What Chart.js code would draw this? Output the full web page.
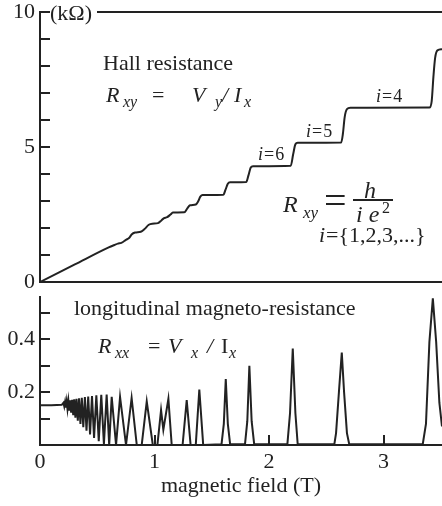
<!DOCTYPE html>
<html>
<head>
<meta charset="utf-8">
<script src="https://cdn.jsdelivr.net/npm/chart.js@4.4.1/dist/chart.umd.min.js"></script>
<style>
  body { margin: 0; background: #fff; }
  #wrap { position: relative; width: 442px; height: 506px; font-family: "Liberation Serif", serif; color: #222; }
  canvas { position: absolute; left: 0; }
  .t { position: absolute; white-space: nowrap; line-height: 1; }
</style>
</head>
<body>
<div id="wrap">
  <canvas id="hall" width="442" height="290" style="top:0"></canvas>
  <canvas id="rxx" width="442" height="216" style="top:290px"></canvas>
</div>
<script>
// Hall resistance (kOhm) vs magnetic field (T)
const hallField = [0, 0.30, 0.60, 0.65, 0.68, 0.71, 0.75, 0.78, 0.80, 0.83, 0.88, 0.91, 0.95, 0.98, 1.03, 1.06, 1.08, 1.11, 1.14, 1.16,
  1.26, 1.285, 1.31, 1.36, 1.38, 1.40, 1.42, 1.60, 1.62, 1.64, 1.66, 1.80, 1.82, 1.84, 1.86,
  2.19, 2.21, 2.23, 2.25, 2.63, 2.645, 2.66, 2.68, 2.71, 3.40, 3.42, 3.435, 3.45, 3.47, 3.51];
const hallValue = [0, 0.64, 1.28, 1.37, 1.42, 1.45, 1.56, 1.64, 1.76, 1.83, 1.86, 1.95, 2.12, 2.16, 2.18, 2.28, 2.36, 2.40, 2.50, 2.57,
  2.58, 2.72, 2.84, 2.87, 2.98, 3.16, 3.22, 3.23, 3.42, 3.64, 3.69, 3.70, 3.95, 4.24, 4.29,
  4.31, 4.72, 5.10, 5.16, 5.17, 5.50, 6.10, 6.40, 6.45, 6.46, 6.70, 7.60, 8.30, 8.58, 8.62];

// longitudinal magneto-resistance vs magnetic field (T)
const rxxField = [0, 0.10, 0.19,
  0.205, 0.212, 0.219, 0.226, 0.233, 0.240, 0.248, 0.256, 0.264, 0.272, 0.281, 0.290, 0.299, 0.309, 0.319, 0.330,
  0.341, 0.353, 0.365, 0.378, 0.392, 0.406, 0.421, 0.437, 0.454, 0.472, 0.492, 0.513, 0.535, 0.558, 0.582, 0.604,
  0.626, 0.664, 0.699, 0.751, 0.800, 0.845, 0.888, 0.932, 0.985, 1.025, 1.057, 1.077, 1.121, 1.150,
  1.245, 1.281, 1.315, 1.360, 1.391, 1.425,
  1.585, 1.605, 1.622, 1.640, 1.660,
  1.790, 1.810, 1.828, 1.848, 1.870,
  2.160, 2.183, 2.207, 2.230, 2.250,
  2.570, 2.585, 2.610, 2.635, 2.655, 2.680, 2.700,
  3.342, 3.370, 3.400, 3.430, 3.459, 3.487, 3.510];
const rxxValue = [0.150, 0.150, 0.152,
  0.160, 0.146, 0.163, 0.141, 0.165, 0.136, 0.167, 0.130, 0.169, 0.122, 0.171, 0.113, 0.173, 0.103, 0.175, 0.092,
  0.177, 0.080, 0.179, 0.067, 0.181, 0.054, 0.183, 0.040, 0.185, 0.027, 0.188, 0.014, 0.190, 0.004, 0.191, 0.000,
  0.182, 0.000, 0.182, 0.000, 0.178, 0.000, 0.000, 0.165, 0.000, 0.000, 0.132, 0.058, 0.175, 0.000,
  0.000, 0.170, 0.000, 0.000, 0.210, 0.000,
  0.003, 0.080, 0.250, 0.080, 0.003,
  0.003, 0.090, 0.300, 0.090, 0.003,
  0.003, 0.120, 0.365, 0.120, 0.003,
  0.003, 0.045, 0.200, 0.350, 0.200, 0.045, 0.003,
  0.003, 0.080, 0.390, 0.555, 0.390, 0.160, 0.070];

const ink = '#222';
Chart.defaults.font.family = '"Liberation Serif", serif';
Chart.defaults.font.size = 22;
Chart.defaults.color = ink;

function toPoints(xs, ys) {
  return xs.map((x, i) => ({ x: x, y: ys[i] }));
}

// fixed axis box sizes, no extra label padding around the plot area
function fixSize(w, h) {
  return (s) => {
    if (w !== null) s.width = w;
    if (h !== null) s.height = h;
    s.paddingTop = 0; s.paddingBottom = 0; s.paddingLeft = 0; s.paddingRight = 0;
  };
}

const hallChart = new Chart(document.getElementById('hall'), {
  type: 'line',
  data: {
    datasets: [{
      data: toPoints(hallField, hallValue),
      borderColor: ink,
      borderWidth: 2,
      pointRadius: 0,
      cubicInterpolationMode: 'monotone',
    }],
  },
  options: {
    responsive: false,
    animation: false,
    layout: { padding: { top: 12, left: 0, right: 0, bottom: 0 } },
    plugins: { legend: { display: false }, tooltip: { enabled: false } },
    scales: {
      x: {
        type: 'linear', min: 0, max: 3.51,
        ticks: { display: false },
        grid: { display: false },
        border: { color: ink, width: 2 },
        afterFit: fixSize(null, 8),
      },
      xTop: {
        type: 'linear', position: 'top', min: 0, max: 3.51,
        ticks: { display: false },
        grid: { display: false },
        border: { color: ink, width: 2 },
        afterFit: fixSize(null, 0),
      },
      y: {
        min: 0, max: 10,
        ticks: { stepSize: 1, padding: 15, autoSkip: false, callback: (v) => (v % 5 === 0 ? v : '') },
        grid: { drawOnChartArea: false, tickLength: -10, color: ink, lineWidth: 2 },
        border: { color: ink, width: 2 },
        afterFit: fixSize(40, null),
      },
    },
  },
});

const rxxChart = new Chart(document.getElementById('rxx'), {
  type: 'line',
  data: {
    datasets: [{
      data: toPoints(rxxField, rxxValue),
      borderColor: ink,
      borderWidth: 2,
      pointRadius: 0,
      tension: 0,
    }],
  },
  options: {
    responsive: false,
    animation: false,
    layout: { padding: { top: 7, left: 0, right: 0, bottom: 0 } },
    plugins: { legend: { display: false }, tooltip: { enabled: false } },
    scales: {
      x: {
        type: 'linear', min: 0, max: 3.51,
        ticks: { stepSize: 1, padding: 14, includeBounds: false, autoSkip: false },
        grid: { drawOnChartArea: false, tickLength: -10, color: ink, lineWidth: 2 },
        border: { color: ink, width: 2 },
        title: { display: true, text: 'magnetic field (T)', font: { size: 22, lineHeight: 1.2 }, padding: { top: 0, bottom: 7 } },
        afterFit: fixSize(null, 61),
      },
      y: {
        min: 0, max: 0.56,
        ticks: {
          stepSize: 0.1, padding: 15, includeBounds: false, autoSkip: false,
          callback: (v) => (Math.abs(v - 0.2) < 1e-6 || Math.abs(v - 0.4) < 1e-6 ? v.toFixed(1) : ''),
        },
        grid: { drawOnChartArea: false, tickLength: -10, color: ink, lineWidth: 2 },
        border: { color: ink, width: 2 },
        afterFit: fixSize(40, null),
      },
    },
  },
});

// text labels: [text, left, baseline, font size, italic, extra css]
const labels = [
  ['(k\u03A9)', 50, 20, 22, false, 'background:#fff;padding-right:5px'],
  ['Hall resistance', 103, 70, 22, false, ''],
  ['R', 106, 102, 22, true, ''],
  ['xy', 123, 107, 16, true, ''],
  ['=', 152, 102, 22, false, ''],
  ['V', 192, 102, 22, true, ''],
  ['y', 215, 107, 16, true, ''],
  ['/', 222, 102, 22, true, ''],
  ['I', 234, 102, 22, true, ''],
  ['x', 244, 107, 16, true, ''],
  ['i', 376, 102, 18, true, ''],
  ['=4', 382, 102, 18, false, 'letter-spacing:1px'],
  ['i', 306, 137, 18, true, ''],
  ['=5', 312, 137, 18, false, 'letter-spacing:1px'],
  ['i', 258, 160, 18, true, ''],
  ['=6', 264, 160, 18, false, 'letter-spacing:1px'],
  ['R', 283, 212, 24, true, ''],
  ['xy', 303, 218, 17, true, ''],
  ['=', 324, 214, 40, false, ''],
  ['h', 364, 198, 24, true, ''],
  ['i e', 356, 222, 24, true, ''],
  ['2', 382, 213, 16, false, ''],
  ['i', 319, 242, 22, true, ''],
  ['={1,2,3,...}', 326, 242, 22, false, ''],
  ['longitudinal magneto-resistance', 74, 315, 22, false, ''],
  ['R', 98, 353, 22, true, ''],
  ['xx', 115, 358, 16, true, ''],
  ['=', 148, 353, 22, false, ''],
  ['V', 168, 353, 22, true, ''],
  ['x', 191, 358, 16, true, ''],
  ['/', 207, 353, 22, true, ''],
  ['I', 221, 353, 22, false, ''],
  ['x', 229, 358, 16, true, ''],
];

const wrap = document.getElementById('wrap');
labels.forEach(([txt, left, base, size, ital, css]) => {
  const d = document.createElement('div');
  d.className = 't';
  d.textContent = txt;
  d.style.cssText += `left:${left}px;top:${(base - size * 0.8375).toFixed(1)}px;font-size:${size}px;` +
    (ital ? 'font-style:italic;' : '') + css;
  wrap.appendChild(d);
});

// fraction bar under h
const bar = document.createElement('div');
bar.style.cssText = 'position:absolute;left:353px;top:199px;width:40px;height:2px;background:#222';
wrap.appendChild(bar);
</script>
</body>
</html>
